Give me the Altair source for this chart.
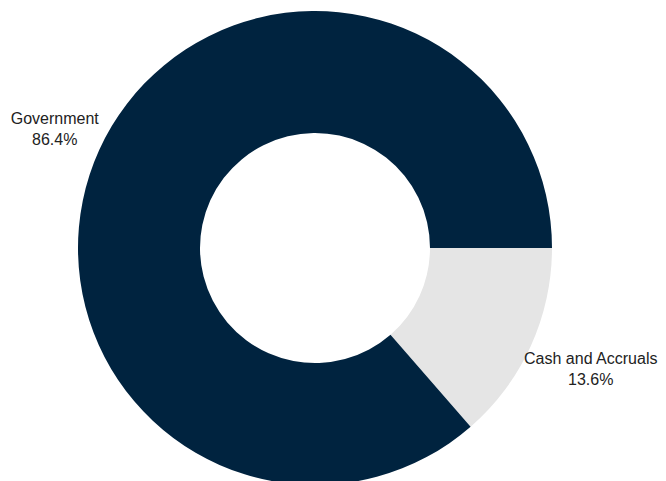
import math
import altair as alt
import pandas as pd

categories = ["Cash and Accruals", "Government"]
values = [13.6, 86.4]
labels = ["Cash and Accruals\n13.6%", "Government\n86.4%"]
colors = ["#E5E5E5", "#00233F"]

df = pd.DataFrame({"category": categories, "value": values, "label": labels,
                   "order": [0, 1]})

start = math.pi / 2
theta_scale = alt.Scale(range=[start, start + 2 * math.pi])

base = alt.Chart(df).encode(
    theta=alt.Theta("value:Q", stack=True, scale=theta_scale),
    order=alt.Order("order:Q"),
    x=alt.value(307),
    y=alt.value(240),
)

arcs = base.mark_arc(outerRadius=237, innerRadius=115).encode(
    color=alt.Color("category:N", scale=alt.Scale(domain=categories, range=colors), legend=None)
)

text_style = dict(fontSize=16, font="Liberation Sans", color="#222222",
                  lineBreak="\n", lineHeight=21, baseline="middle")

text_gov = base.mark_text(radius=286, dy=-10, **text_style).encode(
    text=alt.condition(alt.datum.category == "Government", "label:N", alt.value("")))
text_cash = base.mark_text(radius=303, dy=-15, **text_style).encode(
    text=alt.condition(alt.datum.category == "Cash and Accruals", "label:N", alt.value("")))

chart = (arcs + text_gov + text_cash).properties(
    width=650, height=473, padding=0,
    autosize=alt.AutoSizeParams(type="none")).configure_view(stroke=None)

chart.save("out.html", embed_options={"renderer": "svg", "actions": False})
